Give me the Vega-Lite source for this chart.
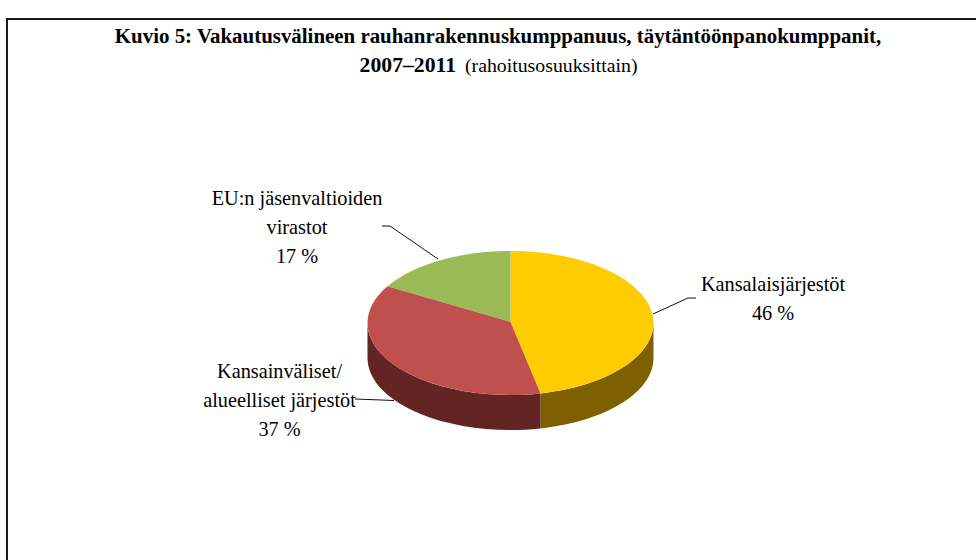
{
"$schema":"https://vega.github.io/schema/vega-lite/v6.json",
"width":976,"height":560,
"autosize":"none",
"padding":0,
"background":"white",
"view":{"stroke":null},
"datasets":{
"palat":[
{"ryhma":"Kansalaisjärjestöt","osuus":46,"pala":"sivu-k","x":510.5,"y":323},
{"ryhma":"Kansainväliset/alueelliset järjestöt","osuus":37,"pala":"sivu-a","x":510.5,"y":323},
{"ryhma":"Kansalaisjärjestöt","osuus":46,"pala":"k","x":510.5,"y":323},
{"ryhma":"Kansainväliset/alueelliset järjestöt","osuus":37,"pala":"a","x":510.5,"y":323},
{"ryhma":"EU:n jäsenvaltioiden virastot","osuus":17,"pala":"e","x":510.5,"y":323}
],
"otsikot":[
{"t":"Kansalaisjärjestöt\n46 %","x":773,"y":291},
{"t":"Kansainväliset/\nalueelliset järjestöt\n37 %","x":279.5,"y":378},
{"t":"EU:n jäsenvaltioiden\nvirastot\n17 %","x":297,"y":205}
],
"viivat":[
{"id":"k","i":1,"x":653,"y":314},{"id":"k","i":2,"x":688,"y":298},{"id":"k","i":3,"x":696,"y":298},
{"id":"a","i":1,"x":355,"y":399},{"id":"a","i":2,"x":394,"y":400.5},
{"id":"e","i":1,"x":382,"y":226},{"id":"e","i":2,"x":390,"y":226},{"id":"e","i":3,"x":438,"y":259},
{"id":"f","i":1,"x":7,"y":560},{"id":"f","i":2,"x":7,"y":19},{"id":"f","i":3,"x":976,"y":19}
]
},
"layer":[
{"data":{"name":"viivat"},"mark":{"type":"line","color":"#111111","strokeWidth":1,"interpolate":"linear"},
"transform":[{"filter":"datum.id!='f'"}],
"encoding":{"x":{"field":"x","type":"quantitative","scale":{"domain":[0,976]},"axis":null},"y":{"field":"y","type":"quantitative","scale":{"domain":[560,0]},"axis":null},"detail":{"field":"id"},"order":{"field":"i"}}},
{"data":{"name":"viivat"},"mark":{"type":"line","color":"#1a1a1a","strokeWidth":2,"interpolate":"linear"},
"transform":[{"filter":"datum.id=='f'"}],
"encoding":{"x":{"field":"x","type":"quantitative","scale":{"domain":[0,976]},"axis":null},"y":{"field":"y","type":"quantitative","scale":{"domain":[560,0]},"axis":null},"detail":{"field":"id"},"order":{"field":"i"}}},
{"data":{"name":"palat"},"mark":{"type":"point","filled":true,"size":4,"opacity":1,"strokeWidth":0},
"encoding":{"x":{"field":"x","type":"quantitative","scale":{"domain":[0,976]},"axis":null},"y":{"field":"y","type":"quantitative","scale":{"domain":[560,0]},"axis":null},
"order":{"field":"pala","sort":"descending"},
"shape":{"field":"pala","type":"nominal","legend":null,"scale":{"domain":["sivu-k","sivu-a","k","a","e"],"range":[
"M143,0 L143,35 A143,72 0 0 1 30,105.4 L30,70.4 A143,72 0 0 0 143,0 Z",
"M30,70.4 L30,105.4 A143,72 0 0 1 -143,35 L-143,0 A143,72 0 0 0 30,70.4 Z",
"M0,-1 L0,-72 A143,72 0 0 1 30,70.4 Z",
"M0,-1 L30,70.4 A143,72 0 0 1 -123,-36.7 Z",
"M0,-1 L-123,-36.7 A143,72 0 0 1 0,-72 Z"]}},
"color":{"field":"pala","type":"nominal","legend":null,"scale":{"domain":["sivu-k","sivu-a","k","a","e"],"range":["#7F6000","#632523","#FFCC00","#C0504D","#9BBB59"]}}}},
{"data":{"name":"otsikot"},"mark":{"type":"text","font":"Liberation Serif","fontSize":20.3,"lineHeight":28.8,"lineBreak":"\n","align":"center","baseline":"alphabetic","color":"#000000"},
"encoding":{"x":{"field":"x","type":"quantitative","scale":{"domain":[0,976]},"axis":null},"y":{"field":"y","type":"quantitative","scale":{"domain":[560,0]},"axis":null},"text":{"field":"t"}}},
{"data":{"values":[{"t":"Kuvio 5: Vakautusvälineen rauhanrakennuskumppanuus, täytäntöönpanokumppanit,","x":498,"y":43}]},"mark":{"type":"text","font":"Liberation Serif","fontSize":20.9,"fontWeight":"bold","align":"center","baseline":"alphabetic","color":"#000000"},
"encoding":{"x":{"field":"x","type":"quantitative","scale":{"domain":[0,976]},"axis":null},"y":{"field":"y","type":"quantitative","scale":{"domain":[560,0]},"axis":null},"text":{"field":"t"}}},
{"data":{"values":[{"t":"2007–2011","x":456,"y":72}]},"mark":{"type":"text","font":"Liberation Serif","fontSize":21.7,"fontWeight":"bold","align":"right","baseline":"alphabetic","color":"#000000"},
"encoding":{"x":{"field":"x","type":"quantitative","scale":{"domain":[0,976]},"axis":null},"y":{"field":"y","type":"quantitative","scale":{"domain":[560,0]},"axis":null},"text":{"field":"t"}}},
{"data":{"values":[{"t":"(rahoitusosuuksittain)","x":465,"y":72}]},"mark":{"type":"text","font":"Liberation Serif","fontSize":19.8,"align":"left","baseline":"alphabetic","color":"#000000"},
"encoding":{"x":{"field":"x","type":"quantitative","scale":{"domain":[0,976]},"axis":null},"y":{"field":"y","type":"quantitative","scale":{"domain":[560,0]},"axis":null},"text":{"field":"t"}}}
]
}
